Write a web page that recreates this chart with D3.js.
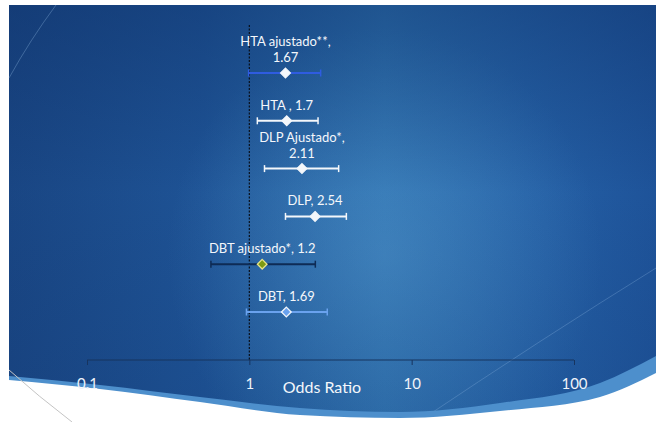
<!DOCTYPE html>
<html>
<head>
<meta charset="utf-8">
<script src="https://cdn.jsdelivr.net/npm/d3@7"></script>
<style>
  html, body { margin: 0; padding: 0; background: #ffffff; }
  svg { display: block; }
  text { font-family: Lato, "Open Sans", sans-serif; }
</style>
</head>
<body>
<div id="chart"></div>
<script>
// Odds ratios with 95% confidence intervals, one row per estimate
const labels = ["HTA ajustado**,\n1.67", "HTA , 1.7", "DLP Ajustado*,\n2.11", "DLP, 2.54", "DBT ajustado*, 1.2", "DBT, 1.69"];
const oddsRatio = [1.67, 1.7, 2.11, 2.54, 1.2, 1.69];
const ciLow = [0.99, 1.12, 1.24, 1.67, 0.58, 0.96];
const ciHigh = [2.75, 2.65, 3.55, 3.96, 2.55, 3.02];
const lineColors = ["#2f5ce0", "#f4f7fb", "#f4f7fb", "#f4f7fb", "#0e2b55", "#6aa2ee"];
const markerFill = ["#f4f7fb", "#f4f7fb", "#f4f7fb", "#f4f7fb", "#7f9a12", "#6aa2ee"];
const markerStroke = ["#f4f7fb", "#f4f7fb", "#f4f7fb", "#f4f7fb", "#e8e48a", "#f4f7fb"];
const tickValues = [0.1, 1, 10, 100];
const tickLabels = ["0.1", "1", "10", "100"];
const axisTitle = "Odds Ratio";

const W = 656, H = 422;
const svg = d3.select("#chart").append("svg").attr("width", W).attr("height", H);
const defs = svg.append("defs");

// Slide-style blue backdrop
const lg = defs.append("linearGradient").attr("id", "bgH").attr("x1", 0).attr("x2", 1).attr("y1", 0).attr("y2", 0);
lg.append("stop").attr("offset", 0).attr("stop-color", "#1a4785");
lg.append("stop").attr("offset", 0.3).attr("stop-color", "#1f5598");
lg.append("stop").attr("offset", 0.58).attr("stop-color", "#2f74b3");
lg.append("stop").attr("offset", 0.8).attr("stop-color", "#2663a9");
lg.append("stop").attr("offset", 1).attr("stop-color", "#1f559c");

const vg = defs.append("linearGradient").attr("id", "bgV").attr("x1", 0).attr("x2", 0).attr("y1", 0).attr("y2", 1);
vg.append("stop").attr("offset", 0).attr("stop-color", "#0d2f66").attr("stop-opacity", 0.45);
vg.append("stop").attr("offset", 0.45).attr("stop-color", "#0d2f66").attr("stop-opacity", 0.05);
vg.append("stop").attr("offset", 1).attr("stop-color", "#0d2f66").attr("stop-opacity", 0.2);

const rg = defs.append("radialGradient").attr("id", "glow")
  .attr("cx", 0.58).attr("cy", 0.6).attr("r", 0.42)
  .attr("gradientTransform", "translate(0.58,0.6) scale(0.8,1.3) translate(-0.58,-0.6)");
rg.append("stop").attr("offset", 0).attr("stop-color", "#5a9fd4").attr("stop-opacity", 0.45);
rg.append("stop").attr("offset", 1).attr("stop-color", "#5a9fd4").attr("stop-opacity", 0);

const bg = svg.append("g");
bg.append("rect").attr("x", 9).attr("y", 5).attr("width", W - 9).attr("height", H - 5).attr("fill", "url(#bgH)");
bg.append("rect").attr("x", 9).attr("y", 5).attr("width", W - 9).attr("height", H - 5).attr("fill", "url(#glow)");
bg.append("rect").attr("x", 9).attr("y", 5).attr("width", W - 9).attr("height", H - 5).attr("fill", "url(#bgV)");

// faint decorative arcs
svg.append("path").attr("d", "M56,5 Q30,40 9,78").attr("fill", "none")
  .attr("stroke", "#8fb6e0").attr("stroke-opacity", 0.35).attr("stroke-width", 1);
svg.append("path").attr("d", "M418,422 Q540,340 656,268").attr("fill", "none")
  .attr("stroke", "#8fb6e0").attr("stroke-opacity", 0.3).attr("stroke-width", 1);

// curved lower edge: a light blue band, then white
const edgeX = [9, 100, 200, 300, 400, 500, 600, 656];
const bandTop = [376, 385, 397, 408, 412, 403, 383, 356];
const whiteTop = [380, 389, 402, 415, 418, 411, 397, 373];
const band = d3.area().curve(d3.curveMonotoneX)
  .x((d, i) => edgeX[i]).y0((d, i) => whiteTop[i] + 1).y1((d, i) => bandTop[i]);
svg.append("path").attr("d", band(edgeX)).attr("fill", "#4d8fcc");
const white = d3.area().curve(d3.curveMonotoneX)
  .x((d, i) => edgeX[i]).y0(H + 2).y1((d, i) => whiteTop[i]);
svg.append("path").attr("d", white(edgeX)).attr("fill", "#ffffff");
svg.append("path").attr("d", "M9,370 Q38,396 72,422").attr("fill", "none")
  .attr("stroke", "#c4c4c4").attr("stroke-width", 1);

// Scales
const x = d3.scaleLog().domain([0.1, 100]).range([87, 574]);
const y = d3.scalePoint().domain(labels).range([73, 312]);
const axisY = 360;

// Axis
const axis = d3.axisBottom(x).tickValues(tickValues).tickFormat((d, i) => tickLabels[i]).tickSize(5).tickPadding(13);
const ax = svg.append("g").attr("transform", `translate(0,${axisY})`).call(axis);
ax.select(".domain").attr("stroke", "#17345f").attr("stroke-width", 1).attr("d", `M${x(0.1)},0H${x(100)}`);
ax.selectAll(".tick line").attr("stroke", "#17345f");
ax.selectAll(".tick text").attr("fill", "#eef3f9").attr("font-size", 15)
  .attr("font-family", "Lato, 'Open Sans', sans-serif");

svg.append("text").attr("x", 322).attr("y", 393).attr("text-anchor", "middle")
  .attr("fill", "#f4f7fb").attr("font-size", 16).text(axisTitle);

// Reference line at OR = 1
svg.append("line").attr("x1", x(1)).attr("x2", x(1)).attr("y1", 25).attr("y2", axisY)
  .attr("stroke", "#0a0f1a").attr("stroke-width", 1.2).attr("stroke-dasharray", "2,1.5");

// Rows
const rows = labels.map((l, i) => ({ label: l, or: oddsRatio[i], lo: ciLow[i], hi: ciHigh[i], i }));
const g = svg.append("g").selectAll("g").data(rows).join("g");

g.append("line").attr("x1", d => x(d.lo)).attr("x2", d => x(d.hi))
  .attr("y1", d => y(d.label)).attr("y2", d => y(d.label))
  .attr("stroke", d => lineColors[d.i]).attr("stroke-width", 2);
g.each(function (d) {
  const s = d3.select(this);
  [d.lo, d.hi].forEach(v => {
    s.append("line").attr("x1", x(v)).attr("x2", x(v))
      .attr("y1", y(d.label) - 3.5).attr("y2", y(d.label) + 3.5)
      .attr("stroke", lineColors[d.i]).attr("stroke-width", 1.5);
  });
});
g.append("path").attr("d", d3.symbol().type(d3.symbolDiamond2).size(60))
  .attr("transform", d => `translate(${x(d.or)},${y(d.label)})`)
  .attr("fill", d => markerFill[d.i]).attr("stroke", d => markerStroke[d.i]).attr("stroke-width", 1.3);

g.each(function (d) {
  const lines = d.label.split("\n");
  const base = y(d.label) - 11;
  lines.forEach((t, k) => {
    d3.select(this).append("text").attr("x", x(d.or)).attr("y", base - (lines.length - 1 - k) * 16)
      .attr("text-anchor", "middle").attr("fill", "#f4f7fb").attr("font-size", 13).text(t);
  });
});
</script>
</body>
</html>
